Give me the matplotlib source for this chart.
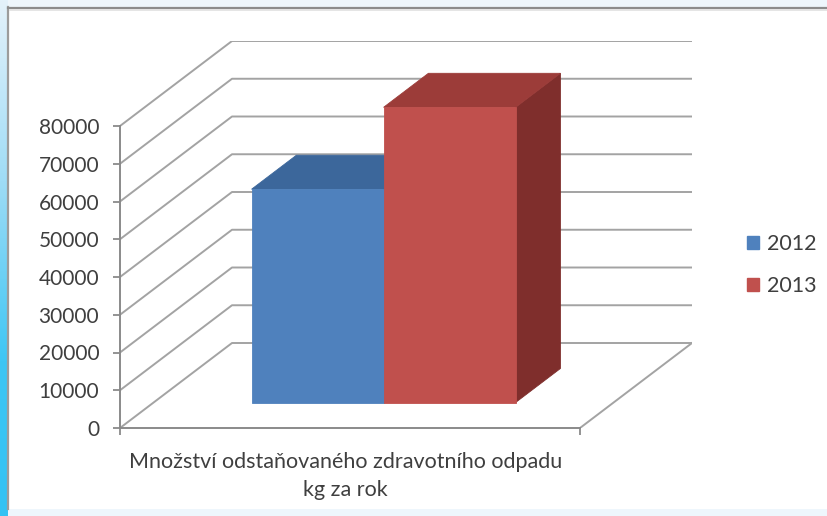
import matplotlib
matplotlib.use("Agg")
import matplotlib.pyplot as plt
import numpy as np
from matplotlib.patches import Polygon, Rectangle, Patch
from matplotlib.colors import LinearSegmentedColormap

# ---- data -------------------------------------------------------------
years = ["2012", "2013"]
amounts = [56500, 78200]
category_label = "Množství odstaňovaného zdravotního odpadu\nkg za rok"
value_ticks = [0, 10000, 20000, 30000, 40000, 50000, 60000, 70000, 80000]

# face colours per series: front, top, right side
palette = [
    ("#4f81bd", "#3c679b", "#345b8a"),
    ("#c0504d", "#9c3c39", "#7f2e2c"),
]

plt.rcParams["font.family"] = ["Lato", "DejaVu Sans"]
TEXT = "#3f3f3f"
GRID = "#a3a3a3"
AXIS = "#8a8a8a"

W, H = 828, 516
fig = plt.figure(figsize=(W / 100, H / 100), dpi=100)
fig.patch.set_facecolor("#eef6fc")

# ---- slide backdrop ---------------------------------------------------
bg = fig.add_axes([0, 0, 1, 1])
bg.axis("off")
strip_cmap = LinearSegmentedColormap.from_list(
    "strip", [(0.0, "#e4f2fb"), (0.35, "#9fdcf6"), (0.7, "#3ec6f4"), (1.0, "#33c2f3")])
bg.imshow(np.linspace(0, 1, 256).reshape(-1, 1), cmap=strip_cmap,
          extent=(0, 8, H, 0), aspect="auto", origin="upper")
bg.add_patch(Rectangle((9, 8), W, 501, facecolor="white", edgecolor="none"))
bg.plot([8.5, 8.5], [7, 509], color="#9c9c9c", lw=1.6)
bg.plot([8, W], [7.5, 7.5], color="#8c8c8c", lw=1.6)
bg.plot([10, W], [9.5, 9.5], color="#e0e0e0", lw=1.2)
bg.set_xlim(0, W)
bg.set_ylim(H, 0)

# ---- 3-D column chart (oblique projection) ----------------------------
px_left, px_right, px_floor, px_top = 120, 580, 428, 126
depth_px = (112, 85)
vmax = value_ticks[-1]

ax = fig.add_axes([px_left / W, (H - px_floor) / H,
                   (px_right - px_left + depth_px[0]) / W,
                   (px_floor - px_top + depth_px[1]) / H])
units_per_px = vmax / (px_floor - px_top)
DX = depth_px[0] / (px_right - px_left)
DY = depth_px[1] * units_per_px
ax.set_xlim(0, 1 + DX)
ax.set_ylim(0, vmax + DY)
ax.patch.set_alpha(0)


def proj(x, v, d):
    return (x + d * DX, v + d * DY)


# side wall diagonals and back wall gridlines
for v in value_ticks:
    xs, ys = zip(proj(0, v, 0), proj(0, v, 1), proj(1, v, 1))
    ax.plot(xs, ys, color=GRID, lw=1.4, zorder=1)
xs, ys = zip(proj(1, 0, 0), proj(1, 0, 1))
ax.plot(xs, ys, color=GRID, lw=1.4, zorder=1)

# columns
d0, d1 = 0.3, 0.7
gap = 0.213
bw = (1 - 2 * gap) / len(amounts)
for i, (val, (c_front, c_top, c_side)) in enumerate(zip(amounts, palette)):
    x0 = gap + i * bw
    x1 = x0 + bw
    side = [proj(x1, 0, d0), proj(x1, 0, d1), proj(x1, val, d1), proj(x1, val, d0)]
    top = [proj(x0, val, d0), proj(x1, val, d0), proj(x1, val, d1), proj(x0, val, d1)]
    front = [proj(x0, 0, d0), proj(x1, 0, d0), proj(x1, val, d0), proj(x0, val, d0)]
    for pts, col in ((side, c_side), (top, c_top), (front, c_front)):
        ax.add_patch(Polygon(pts, closed=True, facecolor=col, edgecolor=col,
                             lw=0.6, zorder=3 + i))

# axes
for s in ("top", "right"):
    ax.spines[s].set_visible(False)
ax.spines["left"].set_bounds(0, vmax)
ax.spines["bottom"].set_bounds(0, 1)
for s in ("left", "bottom"):
    ax.spines[s].set_color(AXIS)
    ax.spines[s].set_linewidth(1.4)
ax.set_yticks(value_ticks)
ax.set_yticklabels([str(v) for v in value_ticks])
ax.set_xticks([0, 1])
ax.set_xticklabels(["", ""])
ax.tick_params(axis="both", direction="out", length=5, width=1.3, color=AXIS,
               labelsize=15, labelcolor=TEXT)
ax.tick_params(axis="y", pad=10)

ax.annotate(category_label, xy=(0.49, 0), xycoords="data", xytext=(0, -17),
            textcoords="offset points", ha="center", va="top",
            fontsize=15.5, color=TEXT, linespacing=1.55)

# legend
handles = [Patch(facecolor=c[0], edgecolor=c[0]) for c in palette]
fig.legend(handles, years, loc="center left",
           bbox_to_anchor=(747 / W, 1 - 265 / H), frameon=False,
           fontsize=15.5, labelcolor=TEXT, handlelength=0.55, handleheight=0.55,
           handletextpad=0.4, labelspacing=1.0, borderpad=0, borderaxespad=0)

fig.savefig("out.png", dpi=100, facecolor=fig.get_facecolor())
